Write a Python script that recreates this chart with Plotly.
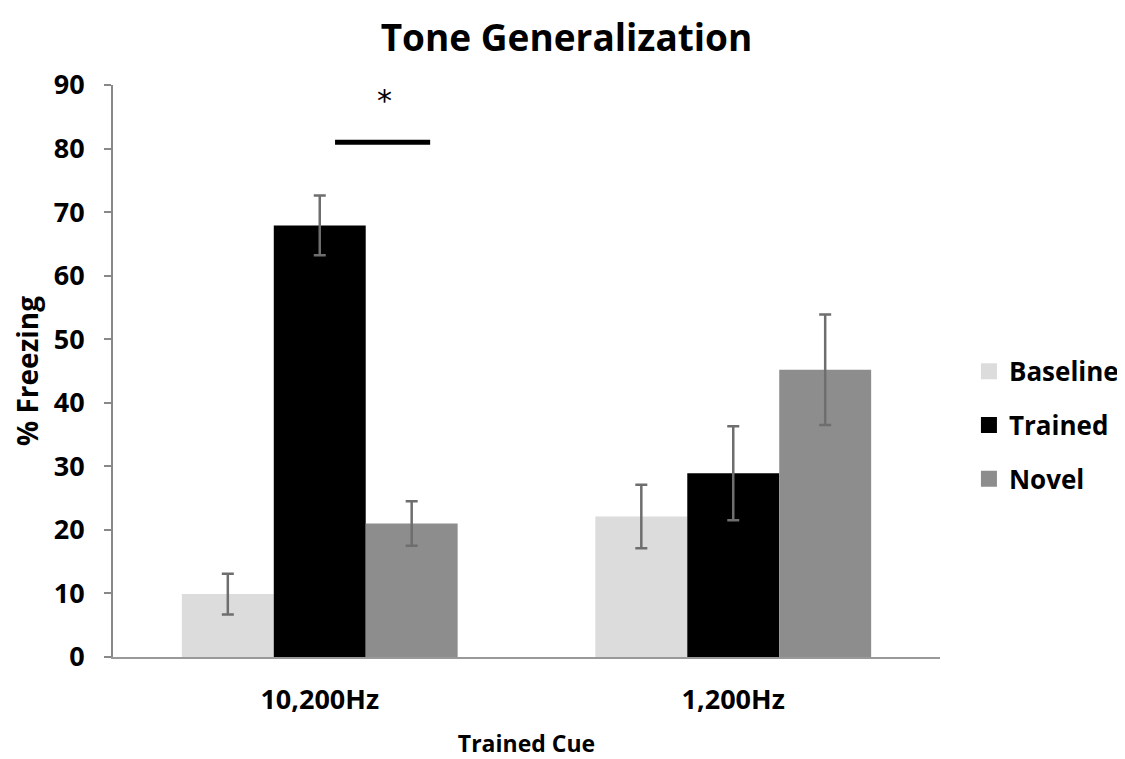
import plotly.graph_objects as go

categories = ["10,200Hz", "1,200Hz"]
series_names = ["Baseline", "Trained", "Novel"]
baseline = [9.9, 22.1]
trained = [67.9, 28.9]
novel = [21.0, 45.2]
baseline_err = [3.2, 5.0]
trained_err = [4.7, 7.4]
novel_err = [3.5, 8.7]
y_ticks = [0, 10, 20, 30, 40, 50, 60, 70, 80, 90]

colors = ["#dcdcdc", "#000000", "#8d8d8d"]
values = [baseline, trained, novel]
errors = [baseline_err, trained_err, novel_err]

FONT = "Open Sans"

fig = go.Figure()
for name, vals, errs, col in zip(series_names, values, errors, colors):
    fig.add_trace(go.Bar(
        x=categories, y=vals, name=name, legendgroup=name, showlegend=False,
        marker=dict(color=col, line=dict(width=0)),
        error_y=dict(type="data", array=errs, visible=True,
                     color="#6e6e6e", thickness=2.5, width=6),
    ))
# legend entries with larger square swatches
for name, col in zip(series_names, colors):
    fig.add_trace(go.Scatter(
        x=[None], y=[None], mode="markers", name=name, legendgroup=name,
        marker=dict(symbol="square", size=18, color=col, line=dict(width=0)),
    ))

fig.update_layout(
    width=1117, height=751,
    paper_bgcolor="white", plot_bgcolor="white",
    barmode="group", bargap=0.333, bargroupgap=0,
    margin=dict(l=105, r=185, t=77, b=102, autoexpand=False),
    font=dict(family=FONT, color="black"),
    title=dict(text="Tone Generalization", x=0.5, xanchor="center",
               y=0.96, yanchor="middle",
               font=dict(size=37, family=FONT, weight="bold")),
    showlegend=True,
    legend=dict(x=1.035, xanchor="left", y=0.405, yanchor="middle",
                font=dict(size=26, family=FONT, weight="bold"), tracegroupgap=17,
                traceorder="grouped", bgcolor="rgba(0,0,0,0)"),
    xaxis=dict(showline=True, linecolor="#999999", linewidth=2, automargin=False,
               ticks="", showgrid=False, ticklabelstandoff=18,
               tickfont=dict(size=27, family=FONT, weight="bold"),
               title=dict(text="Trained Cue",
                          font=dict(size=23, family=FONT, weight="bold"),
                          standoff=20)),
    yaxis=dict(range=[0, 90], tickvals=y_ticks, showline=True, linecolor="#888888",
               linewidth=2, ticks="outside", ticklen=7, tickcolor="#888888", tickwidth=2,
               showgrid=False, zeroline=False, ticklabelstandoff=14, automargin=False,
               tickfont=dict(size=27, family=FONT, weight="bold"),
               title=dict(text="% Freezing",
                          font=dict(size=28, family=FONT, weight="bold"),
                          standoff=8)),
)

# significance bar and star
fig.add_shape(type="line", xref="x", yref="y", x0=0.037, x1=0.267, y0=81, y1=81,
              line=dict(color="black", width=5))
fig.add_annotation(xref="x", yref="y", x=0.157, y=87.5, text="*", showarrow=False,
                   font=dict(size=30, family="DejaVu Sans", color="black"))

fig.write_html("out.html")
